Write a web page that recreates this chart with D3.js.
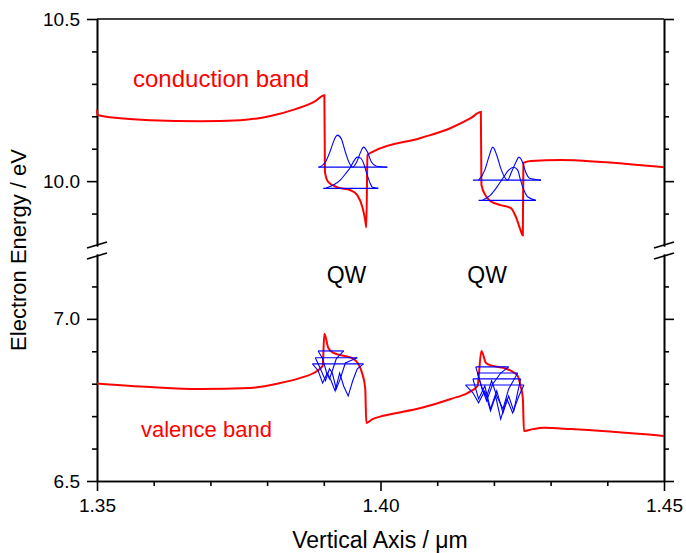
<!DOCTYPE html>
<html>
<head>
<meta charset="utf-8">
<script src="https://cdn.jsdelivr.net/npm/d3@7"></script>
<style>
  body { margin: 0; background: #fff; }
  text { font-family: "Liberation Sans", Arial, sans-serif; }
  .axis path, .axis line { stroke: #000; stroke-width: 1.6; }
  .axis text { font-size: 19px; fill: #000; }
</style>
</head>
<body>
<svg id="chart" width="686" height="553"></svg>
<script>
// band edges, [position in um, energy in eV]
const conductionBand = [
  [1.3500,10.220],[1.3501,10.204],[1.3541,10.194],[1.3594,10.188],[1.3682,10.185],[1.3753,10.188],
  [1.3806,10.201],[1.3850,10.222],[1.3885,10.247],[1.3901,10.265],[1.3902,10.028],[1.3908,9.997],
  [1.3924,9.981],[1.3947,9.972],[1.3959,9.957],[1.3968,9.920],[1.3973,9.880],[1.3975,9.858],
  [1.3977,10.080],[1.3986,10.090],[1.4071,10.133],[1.4124,10.164],[1.4159,10.194],[1.4177,10.213],
  [1.4178,9.988],[1.4186,9.954],[1.4194,9.938],[1.4212,9.926],[1.4230,9.917],[1.4239,9.889],
  [1.4247,9.849],[1.4251,9.833],[1.4252,10.056],[1.4265,10.062],[1.4318,10.065],[1.4389,10.059],
  [1.4500,10.043]
]
const valenceBand = [
  [1.3500,6.801],[1.3594,6.790],[1.3682,6.784],[1.3770,6.787],[1.3823,6.802],[1.3859,6.818],
  [1.3882,6.833],[1.3898,6.855],[1.3901,6.954],[1.3908,6.910],[1.3917,6.895],[1.3935,6.886],
  [1.3952,6.877],[1.3961,6.861],[1.3968,6.830],[1.3973,6.787],[1.3975,6.679],[1.3986,6.691],
  [1.4005,6.701],[1.4071,6.725],[1.4124,6.753],[1.4154,6.772],[1.4171,6.793],[1.4178,6.901],
  [1.4186,6.864],[1.4198,6.855],[1.4217,6.849],[1.4230,6.840],[1.4242,6.824],[1.4247,6.793],
  [1.4251,6.756],[1.4253,6.654],[1.4269,6.660],[1.4288,6.664],[1.4336,6.660],[1.4500,6.639]
]

// bound levels: [x start, x end, energy]
const electronLevels = [
  [1.3890,1.4012,10.043],[1.3899,1.3996,9.978],
  [1.4163,1.4283,10.003],[1.4173,1.4274,9.941]
]
const holeLevels = [
  [1.3890,1.3935,6.901],[1.3885,1.3959,6.880],[1.3880,1.3970,6.861],
  [1.4168,1.4226,6.852],[1.4171,1.4242,6.833],[1.4163,1.4247,6.815],[1.4150,1.4253,6.796]
]

// probability densities drawn on top of their level
const electronWaves = [
  [[1.3892,10.043],[1.3903,10.059],[1.3912,10.096],[1.3919,10.130],[1.3924,10.142],[1.3931,10.130],
   [1.3938,10.090],[1.3945,10.056],[1.3951,10.043],[1.3958,10.059],[1.3965,10.090],[1.3970,10.105],
   [1.3977,10.090],[1.3984,10.059],[1.3993,10.046],[1.4012,10.043]],
  [[1.3903,9.978],[1.3917,9.988],[1.3929,10.003],[1.3938,10.022],[1.3947,10.043],[1.3954,10.065],
   [1.3959,10.074],[1.3965,10.071],[1.3970,10.056],[1.3975,10.028],[1.3981,9.997],[1.3986,9.981],
   [1.3996,9.978]],
  [[1.4173,10.003],[1.4184,10.034],[1.4191,10.074],[1.4198,10.105],[1.4205,10.080],[1.4212,10.040],
   [1.4219,10.012],[1.4224,10.003],[1.4231,10.028],[1.4239,10.059],[1.4244,10.074],[1.4251,10.056],
   [1.4256,10.028],[1.4263,10.009],[1.4283,10.003]],
  [[1.4180,9.941],[1.4194,9.957],[1.4205,9.981],[1.4217,10.012],[1.4226,10.034],[1.4235,10.043],
   [1.4242,10.034],[1.4247,10.003],[1.4253,9.972],[1.4260,9.951],[1.4274,9.941]]
]
const holeWaves = [
  [[1.3890,6.901],[1.3898,6.877],[1.3905,6.833],[1.3910,6.815],[1.3915,6.840],[1.3922,6.877],[1.3935,6.901]],
  [[1.3885,6.880],[1.3894,6.846],[1.3903,6.809],[1.3910,6.846],[1.3915,6.833],[1.3922,6.784],
   [1.3929,6.815],[1.3938,6.864],[1.3959,6.880]],
  [[1.3880,6.861],[1.3890,6.840],[1.3898,6.802],[1.3906,6.833],[1.3913,6.809],[1.3920,6.778],
   [1.3928,6.833],[1.3935,6.793],[1.3943,6.762],[1.3951,6.809],[1.3959,6.846],[1.3970,6.861]],
  [[1.4168,6.852],[1.4178,6.793],[1.4187,6.747],[1.4198,6.799],[1.4212,6.833],[1.4226,6.852]],
  [[1.4171,6.833],[1.4180,6.778],[1.4187,6.759],[1.4196,6.809],[1.4205,6.762],[1.4216,6.722],
   [1.4226,6.784],[1.4242,6.833]],
  [[1.4163,6.815],[1.4173,6.753],[1.4184,6.793],[1.4194,6.722],[1.4205,6.778],[1.4216,6.710],
   [1.4226,6.762],[1.4235,6.716],[1.4247,6.815]],
  [[1.4150,6.796],[1.4163,6.772],[1.4173,6.741],[1.4184,6.778],[1.4194,6.716],[1.4203,6.762],
   [1.4212,6.691],[1.4223,6.753],[1.4233,6.710],[1.4244,6.762],[1.4253,6.796]]
]

// ticks
const xMajor = [1.35, 1.40, 1.45]
const xMinor = [1.36, 1.37, 1.38, 1.39, 1.41, 1.42, 1.43, 1.44]
const topMajor = [10.0, 10.5]
const topMinor = [9.9, 10.1, 10.2, 10.3, 10.4]
const botMajor = [6.5, 7.0]
const botMinor = [6.6, 6.7, 6.8, 6.9, 7.1]

const qwLabels = [1.3940, 1.4188]

const svg = d3.select("#chart")

// scales: one x, two y pieces for the broken axis
const xScale = d3.scaleLinear().domain([1.35, 1.45]).range([97, 664])
const yTop = d3.scaleLinear().domain([9.8, 10.5]).range([246, 19])
const yBot = d3.scaleLinear().domain([6.5, 7.2]).range([481, 254])
const yE = e => e > 8 ? yTop(e) : yBot(e)

const line = d3.line().x(d => xScale(d[0])).y(d => yE(d[1]))
const smooth = d3.line().x(d => xScale(d[0])).y(d => yE(d[1])).curve(d3.curveMonotoneX)

// axes helper
const addAxis = (axisFn, scale, values, size, transform, labels) => {
  const ax = axisFn(scale).tickValues(values).tickSize(size).tickSizeOuter(0)
  if (labels) ax.tickFormat(labels).tickPadding(axisFn === d3.axisBottom ? 8 : 7)
  else ax.tickFormat("")
  svg.append("g").attr("class", "axis")
    .attr("transform", transform)
    .call(ax)
}

// left
addAxis(d3.axisLeft, yTop, topMajor, 10, "translate(97,0)", d3.format(".1f"))
addAxis(d3.axisLeft, yTop, topMinor, 5, "translate(97,0)")
addAxis(d3.axisLeft, yBot, botMajor, 10, "translate(97,0)", d3.format(".1f"))
addAxis(d3.axisLeft, yBot, botMinor, 5, "translate(97,0)")
// right
addAxis(d3.axisRight, yTop, topMajor, 10, "translate(664,0)")
addAxis(d3.axisRight, yTop, topMinor, 5, "translate(664,0)")
addAxis(d3.axisRight, yBot, botMajor, 10, "translate(664,0)")
addAxis(d3.axisRight, yBot, botMinor, 5, "translate(664,0)")
// bottom
addAxis(d3.axisBottom, xScale, xMajor, 10, "translate(0,481)", d3.format(".2f"))
addAxis(d3.axisBottom, xScale, xMinor, 5, "translate(0,481)")
// top frame line
svg.append("line")
  .attr("x1", 97).attr("x2", 664).attr("y1", 19).attr("y2", 19)
  .attr("stroke", "#000").attr("stroke-width", 1.6)

// break marks
const yUp = yTop.range()[0] - 1, yLo = yBot.range()[1] + 2
;[97, 664].forEach(x => {
  [yUp, yLo].forEach(y => {
    svg.append("line")
      .attr("x1", x - 10).attr("y1", y + 3)
      .attr("x2", x + 10).attr("y2", y - 3)
      .attr("stroke", "#000").attr("stroke-width", 1.6)
  })
})

// band edges
svg.selectAll(".band")
  .data([conductionBand, valenceBand])
  .join("path")
  .attr("class", "band")
  .attr("d", smooth)
  .attr("fill", "none")
  .attr("stroke", "#ff0000")
  .attr("stroke-width", 2)

// levels
svg.selectAll(".level")
  .data(electronLevels.concat(holeLevels))
  .join("line")
  .attr("class", "level")
  .attr("x1", d => xScale(d[0])).attr("x2", d => xScale(d[1]))
  .attr("y1", d => yE(d[2])).attr("y2", d => yE(d[2]))
  .attr("stroke", "#0000ff").attr("stroke-width", 1.2)

// wavefunctions
svg.selectAll(".ewave")
  .data(electronWaves)
  .join("path")
  .attr("class", "ewave")
  .attr("d", smooth)
  .attr("fill", "none").attr("stroke", "#0000ff").attr("stroke-width", 1.1)

svg.selectAll(".hwave")
  .data(holeWaves)
  .join("path")
  .attr("class", "hwave")
  .attr("d", line)
  .attr("fill", "none").attr("stroke", "#0000ff").attr("stroke-width", 1.1)

// annotations
svg.append("text").attr("x", 133).attr("y", 87)
  .attr("font-size", 24).attr("fill", "#ff0000").text("conduction band")
svg.append("text").attr("x", 141).attr("y", 437)
  .attr("font-size", 22).attr("fill", "#ff0000").text("valence band")
svg.selectAll(".qw")
  .data(qwLabels)
  .join("text")
  .attr("class", "qw")
  .attr("x", d => xScale(d)).attr("y", 283)
  .attr("text-anchor", "middle")
  .attr("font-size", 23).text("QW")

// axis titles
svg.append("text").attr("x", 380).attr("y", 548)
  .attr("text-anchor", "middle").attr("font-size", 23)
  .text("Vertical Axis / μm")
svg.append("text")
  .attr("transform", "translate(26,250) rotate(-90)")
  .attr("text-anchor", "middle").attr("font-size", 22)
  .text("Electron Energy / eV")
</script>
</body>
</html>
